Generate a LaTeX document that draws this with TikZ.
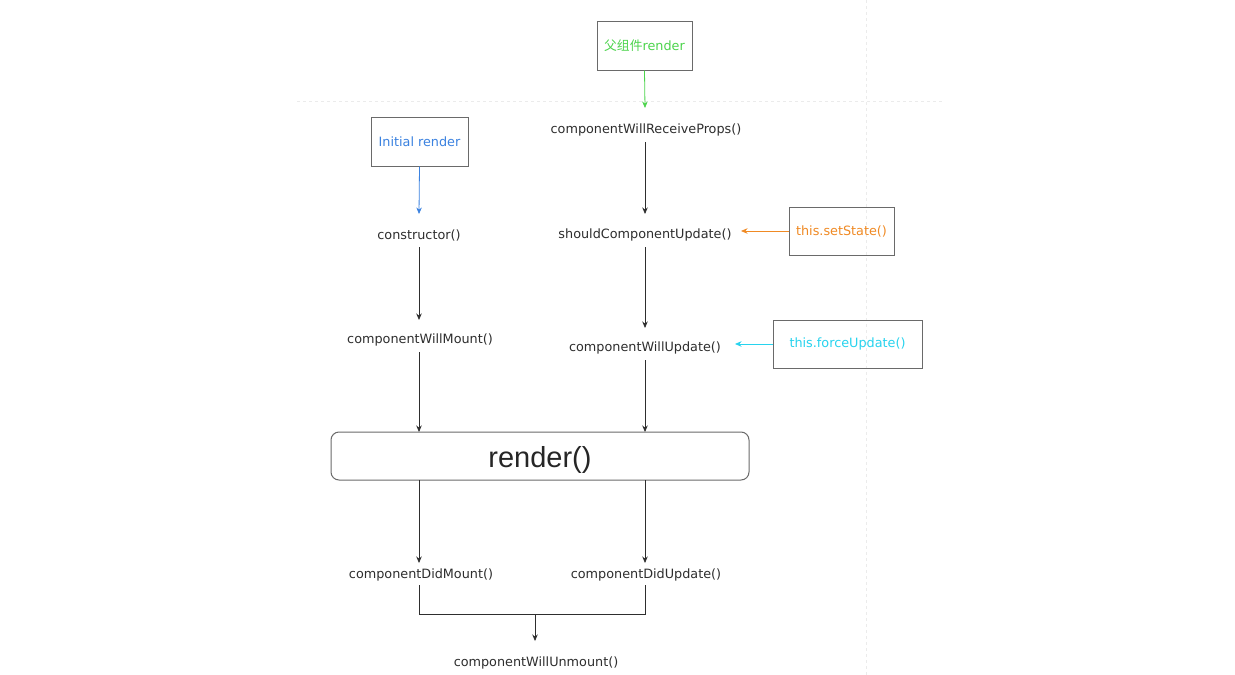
\documentclass[tikz,border=0pt]{standalone}
\usepackage{fontspec}
\setmainfont{Liberation Sans}
\newfontfamily\labelfont{DejaVu Sans}
\newfontfamily\cjk{Noto Sans CJK SC}
\usetikzlibrary{arrows.meta}
\definecolor{txt}{HTML}{2E2E2E}
\definecolor{boxline}{HTML}{6A6A6A}
\definecolor{grn}{HTML}{4CD44C}
\definecolor{blu}{HTML}{3B82E0}
\definecolor{org}{HTML}{F08A24}
\definecolor{cyn}{HTML}{27D3EE}
\tikzset{
  lbl/.style={font=\labelfont\fontsize{12.8}{14}\selectfont, text=txt, inner sep=0pt, yshift=-2pt},
  srcbox/.style={draw=boxline, line width=1pt, font=\labelfont\fontsize{12.8}{14}\selectfont, inner sep=0pt},
  tip/.style={-{Stealth[length=6.5pt,width=5.5pt]}},
  flow/.style={draw=txt, line width=0.8pt, tip},
  plain/.style={draw=txt, line width=0.8pt},
  guide/.style={draw=black!8, line width=0.6pt, dashed}
}
\begin{document}
\begin{tikzpicture}[x=1pt,y=-1pt]
\useasboundingbox (0,0) rectangle (1235,675);
\fill[white] (0,0) rectangle (1235,675);

% faint background guides
\draw[guide] (297,101) -- (943,101);
\draw[guide] (866,0) -- (866,675);

% source boxes
\node[srcbox, minimum width=95pt, minimum height=49pt, text=grn] (parent) at (644.5,45.5) {{\cjk 父组件}render};
\node[srcbox, minimum width=97pt, minimum height=49pt, text=blu] (init) at (419.5,141.5) {Initial render};
\node[srcbox, minimum width=105pt, minimum height=48pt, text=org] (setstate) at (841.5,231) {this.setState()};
\node[srcbox, minimum width=149pt, minimum height=48pt, text=cyn] (force) at (847.5,344) {this.forceUpdate()};

% lifecycle methods
\node[lbl] (cwrp) at (646,128) {componentWillReceiveProps()};
\node[lbl] (scu) at (645,233) {shouldComponentUpdate()};
\node[lbl] (cwu) at (645,346) {componentWillUpdate()};
\node[lbl] (ctor) at (419,233) {constructor()};
\node[lbl] (cwm) at (420,338) {componentWillMount()};
\node[lbl] (cdm) at (421,573) {componentDidMount()};
\node[lbl] (cdu) at (646,573) {componentDidUpdate()};
\node[lbl] (cwun) at (536,661) {componentWillUnmount()};

% render box
\node[draw=boxline, line width=1pt, rounded corners=8pt, minimum width=418pt, minimum height=48pt,
      font=\fontsize{29}{32}\selectfont, text=black!85] (render) at (540,456) {};
\node[font=\fontsize{29}{32}\selectfont, text=black!85, inner sep=0pt] (rendertext) at (540,460) {render()};

% coordinates along the flow
\coordinate (rTopL) at (419,432);
\coordinate (rTopR) at (645,432);
\coordinate (rBotL) at (419,480);
\coordinate (rBotR) at (645,480);
\coordinate (joinL) at (419,614);
\coordinate (joinR) at (645,614);
\coordinate (joinM) at (535,614);

% connectors
\draw[flow, color=grn] (parent.south) -- (645,108);
\draw[flow] (645,142) -- (645,214);
\draw[flow] (645,247) -- (645,328);
\draw[flow] (645,360) -- (rTopR);

\draw[flow, color=blu] (init.south) -- (419,214);
\draw[flow] (419,247) -- (419,320);
\draw[flow] (419,352) -- (rTopL);

\draw[flow, color=org] (setstate.west) -- (741,231);
\draw[flow, color=cyn] (force.west) -- (735,344);

\draw[flow] (rBotL) -- (419,563);
\draw[flow] (rBotR) -- (645,563);

\draw[plain] (419,585) -- (joinL) -- (joinR) -- (645,585);
\draw[flow] (joinM) -- (535,641);
\end{tikzpicture}
\end{document}
